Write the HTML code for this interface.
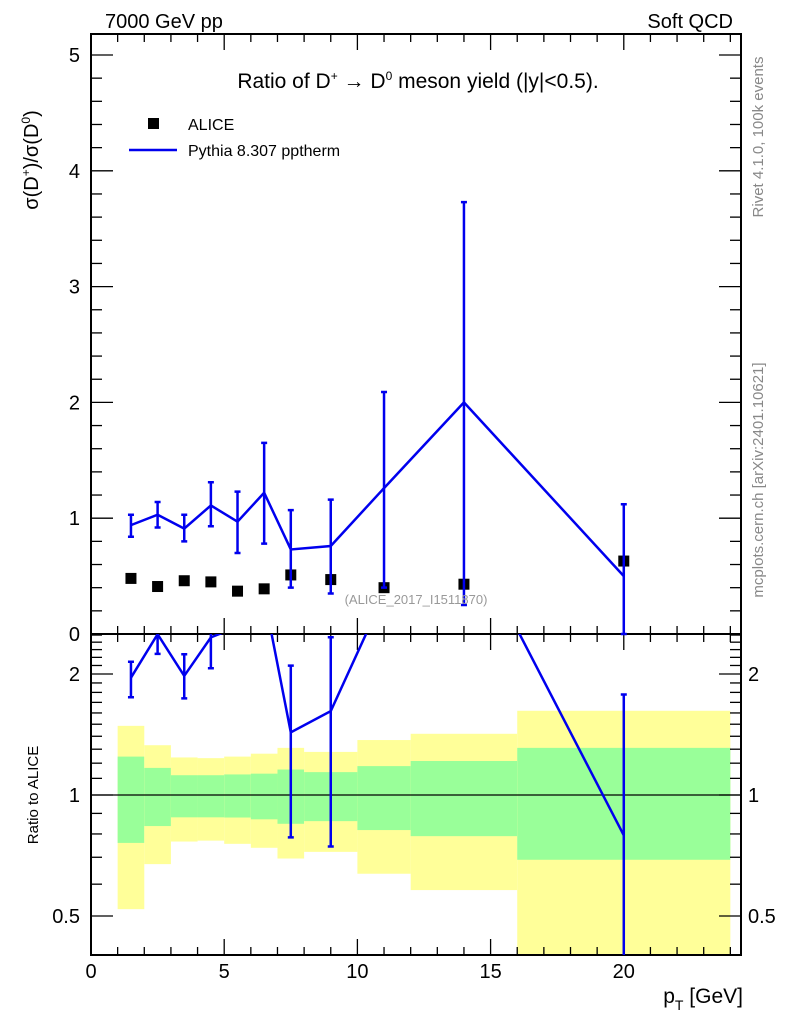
<!DOCTYPE html>
<html><head><meta charset="utf-8"><style>
html,body{margin:0;padding:0;background:#fff;}
svg{display:block;font-family:"Liberation Sans",sans-serif;}
</style></head><body>
<svg id="chart" width="786" height="1024" viewBox="0 0 786 1024" xmlns="http://www.w3.org/2000/svg">
<g id="bands"></g>
<g id="axes"></g>
<g id="marks"></g>
<text x="105" y="28" font-size="20">7000 GeV pp</text>
<text x="733" y="28" font-size="20" text-anchor="end">Soft QCD</text>
<text x="418" y="88" font-size="21" text-anchor="middle">Ratio of D<tspan dy="-8" font-size="12">+</tspan><tspan dy="8"> → D</tspan><tspan dy="-8" font-size="12">0</tspan><tspan dy="8"> meson yield (|y|&lt;0.5).</tspan></text>
<rect x="148" y="118" width="11" height="11" fill="#000"/>
<text x="188" y="130" font-size="16">ALICE</text>
<line x1="129" y1="150" x2="177" y2="150" stroke="#0000ee" stroke-width="2.5"/>
<text x="188" y="156" font-size="16">Pythia 8.307 pptherm</text>
<text transform="translate(38,160) rotate(-90)" font-size="20" text-anchor="middle">σ(D<tspan dy="-8" font-size="12">+</tspan><tspan dy="8">)/σ(D</tspan><tspan dy="-8" font-size="12">0</tspan><tspan dy="8">)</tspan></text>
<text transform="translate(38,795) rotate(-90)" font-size="15" text-anchor="middle">Ratio to ALICE</text>
<text x="743" y="1003" font-size="21" text-anchor="end">p<tspan dy="7" font-size="14">T</tspan><tspan dy="-7"> [GeV]</tspan></text>
<text transform="translate(763,137) rotate(-90)" font-size="15" fill="#888" text-anchor="middle">Rivet 4.1.0,  100k events</text>
<text transform="translate(763,480) rotate(-90)" font-size="15" fill="#888" text-anchor="middle">mcplots.cern.ch [arXiv:2401.10621]</text>
<text x="416" y="604" font-size="13" fill="#999" text-anchor="middle">(ALICE_2017_I1511870)</text>
</svg>
<script>
const xVals = [1.5, 2.5, 3.5, 4.5, 5.5, 6.5, 7.5, 9, 11, 14, 20];
const aliceVals = [0.48, 0.41, 0.46, 0.45, 0.37, 0.39, 0.51, 0.47, 0.40, 0.43, 0.63];
const pythiaVals = [0.94, 1.03, 0.91, 1.11, 0.97, 1.22, 0.73, 0.76, 1.26, 2.0, 0.5];
const pythiaLo = [0.84, 0.92, 0.80, 0.93, 0.70, 0.78, 0.40, 0.35, 0.40, 0.25, 0.0];
const pythiaHi = [1.03, 1.14, 1.03, 1.31, 1.23, 1.65, 1.07, 1.16, 2.09, 3.73, 1.12];
const binEdges = [1, 2, 3, 4, 5, 6, 7, 8, 10, 12, 16, 24];
const greenHi = [1.246, 1.168, 1.12, 1.12, 1.125, 1.13, 1.157, 1.14, 1.18, 1.215, 1.31];
const greenLo = [0.76, 0.837, 0.88, 0.88, 0.879, 0.87, 0.848, 0.861, 0.818, 0.79, 0.69];
const yellowHi = [1.486, 1.33, 1.24, 1.235, 1.246, 1.267, 1.31, 1.28, 1.37, 1.42, 1.62];
const yellowLo = [0.52, 0.673, 0.766, 0.77, 0.756, 0.739, 0.695, 0.722, 0.637, 0.58, 0.3];
const xTicks = [0, 5, 10, 15, 20];
const yTicks = [0, 1, 2, 3, 4, 5];
const rTicks = [0.5, 1, 2];

const NS = "http://www.w3.org/2000/svg";
const L = 91, R = 741, T = 34, MB = 634, RB = 955;
const xmax = 24.4;
const X = v => L + v / xmax * (R - L);
const Y = v => 634 - v * 115.8;
const RY1 = 795, RPX = 121;
const RY = v => RY1 - Math.log2(v) * RPX;
const clampR = y => Math.max(MB, Math.min(RB, y));
const rTop = Math.pow(2, (RY1 - MB) / RPX);

function mk(parent, tag, attrs) {
  const e = document.createElementNS(NS, tag);
  for (const k in attrs) e.setAttribute(k, attrs[k]);
  document.getElementById(parent).appendChild(e);
  return e;
}

for (let i = 0; i < greenHi.length; i++) {
  const x0 = X(binEdges[i]), x1 = X(binEdges[i + 1]);
  const y1 = clampR(RY(yellowHi[i])), y2 = clampR(RY(yellowLo[i]));
  const yb = mk('bands', 'rect', {x: x0, y: y1, width: x1 - x0, height: y2 - y1, fill: '#ffff99'});
  
  
  const g1 = clampR(RY(greenHi[i])), g2 = clampR(RY(greenLo[i]));
  const gb = mk('bands', 'rect', {x: x0, y: g1, width: x1 - x0, height: g2 - g1, fill: '#99ff99'});
  
  
}
const ul = mk('axes', 'line', {x1: L, x2: R, y1: RY(1), y2: RY(1), stroke: '#000', 'stroke-width': 1.2});



for (const [t, b, nm] of [[T, MB, 'main-frame'], [MB, RB, 'ratio-frame']]) {
  const f = mk('axes', 'rect', {x: L, y: t, width: R - L, height: b - t, fill: 'none', stroke: '#000', 'stroke-width': 2});
  
  
}
function tick(x1, y1, x2, y2) {
  const t = mk('axes', 'line', {x1, y1, x2, y2, stroke: '#000', 'stroke-width': 1.3});
  
  
}
function label(x, y, s, anchor, size) {
  const t = mk('axes', 'text', {x, y, 'font-size': size, 'text-anchor': anchor});
  t.textContent = s;
  
  
}
for (let v = 0; v <= 24; v += 1) {
  const major = v % 5 === 0, len = major ? 16 : 8;
  const x = X(v);
  tick(x, T, x, T + len); tick(x, MB, x, MB - len);
  tick(x, MB, x, MB + len); tick(x, RB, x, RB - len);
}
xTicks.forEach(v => label(X(v), 978, String(v), 'middle', 20));
for (let i = 0; i <= 25; i++) {
  const v = i * 0.2, y = Y(v), major = i % 5 === 0, len = major ? 22 : 11;
  if (y < T) continue;
  tick(L, y, L + len, y); tick(R, y, R - len, y);
}
yTicks.forEach(v => label(80, Y(v) + 7, String(v), 'end', 20));
const rMinor = [0.4, 0.5, 0.6, 0.7, 0.8, 0.9, 1, 1.1, 1.2, 1.3, 1.4, 1.5, 1.6, 1.7, 1.8, 1.9, 2, 2.1, 2.2, 2.3, 2.4, 2.5];
rMinor.forEach(v => {
  const y = RY(v);
  if (y < MB || y > RB) return;
  const major = rTicks.includes(v), len = major ? 22 : 11;
  tick(L, y, L + len, y); tick(R, y, R - len, y);
});
rTicks.forEach(v => {
  label(80, RY(v) + 7, String(v), 'end', 20);
  label(748, RY(v) + 7, String(v), 'start', 20);
});

xVals.forEach((x, i) => {
  const m = mk('marks', 'rect', {x: X(x) - 5.5, y: Y(aliceVals[i]) - 5.5, width: 11, height: 11, fill: '#000'});
  
  
});
const B = '#0000ee';
xVals.forEach((x, i) => {
  const px = X(x), y1 = Y(pythiaLo[i]), y2 = Y(pythiaHi[i]);
  const e = mk('marks', 'path', {d: `M${px},${y1}V${y2}M${px-3},${y1}h6M${px-3},${y2}h6`, stroke: B, 'stroke-width': 2.5, fill: 'none'});
  
  
});
const ln = mk('marks', 'polyline', {points: xVals.map((x, i) => X(x) + ',' + Y(pythiaVals[i])).join(' '), stroke: B, 'stroke-width': 2.5, fill: 'none'});



const cp = mk('marks', 'clipPath', {id: 'rclip'});
const cr = document.createElementNS(NS, 'rect');
cr.setAttribute('x', L); cr.setAttribute('y', MB); cr.setAttribute('width', R - L); cr.setAttribute('height', RB - MB);
cp.appendChild(cr);
const rg = mk('marks', 'g', {'clip-path': 'url(#rclip)'});


const ratios = xVals.map((x, i) => pythiaVals[i] / aliceVals[i]);
xVals.forEach((x, i) => {
  if (ratios[i] > rTop) return;
  const px = X(x);
  const lo = pythiaLo[i] / aliceVals[i], hi = pythiaHi[i] / aliceVals[i];
  const y1 = lo > 0 ? RY(lo) : RB + 50, y2 = RY(hi);
  const e = document.createElementNS(NS, 'path');
  e.setAttribute('d', `M${px},${y1}V${y2}M${px-3},${y1}h6M${px-3},${y2}h6`);
  e.setAttribute('stroke', B); e.setAttribute('stroke-width', 2.5); e.setAttribute('fill', 'none');
  
  
  rg.appendChild(e);
});
const rl = document.createElementNS(NS, 'polyline');
rl.setAttribute('points', xVals.map((x, i) => X(x) + ',' + RY(ratios[i])).join(' '));
rl.setAttribute('stroke', B); rl.setAttribute('stroke-width', 2.5); rl.setAttribute('fill', 'none');


rg.appendChild(rl);
</script>
</body></html>
